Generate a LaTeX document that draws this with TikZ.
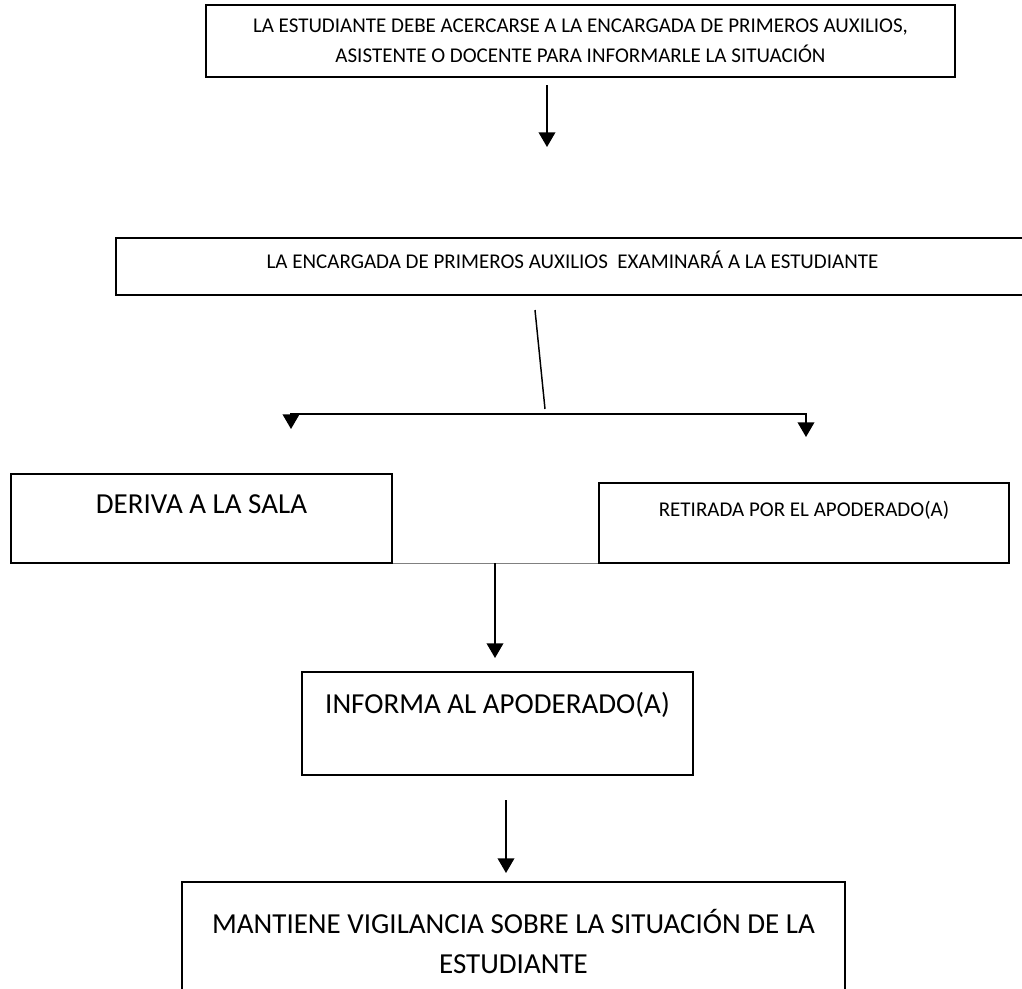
\documentclass[tikz,border=0pt]{standalone}
\usepackage{fontspec}
\setmainfont{Carlito}
\usetikzlibrary{arrows.meta}
\begin{document}
\begin{tikzpicture}[x=0.75pt,y=-0.75pt]

% definitions
\tikzstyle{box} = [rectangle, draw=black, line width=1.3pt, inner sep=0pt, align=center]

\tikzstyle{smalltext} = [font=\fontsize{15.75}{22.5}\selectfont]

\tikzstyle{largetext} = [font=\fontsize{21.75}{30}\selectfont]

\tikzstyle{arrow} = [-{Triangle[width=12.5pt,length=11pt]}, line width=1.1pt]

\tikzstyle{joint} = [draw=gray, line width=0.8pt]

\useasboundingbox (0,0) rectangle (1022,989);
\clip (0,0) rectangle (1022,989);

% the graph
\node (b1) [box, smalltext, minimum width=561.75pt, minimum height=54pt] at (580.5,41) {LA ESTUDIANTE DEBE ACERCARSE A LA ENCARGADA DE PRIMEROS AUXILIOS,\\ASISTENTE O DOCENTE PARA INFORMARLE LA SITUACIÓN};

\node (b2) [box, smalltext, minimum width=684.75pt, minimum height=42.75pt, text height=10.5pt, text depth=8.25pt] at (572.5,266.5) {LA ENCARGADA DE PRIMEROS AUXILIOS ~EXAMINARÁ A LA ESTUDIANTE};

\node (b3) [box, largetext, minimum width=285.75pt, minimum height=66.75pt, text height=13.5pt, text depth=21.75pt] at (201.5,518.5) {DERIVA A LA SALA};

\node (b4) [box, smalltext, minimum width=307.5pt, minimum height=60pt, text height=10.5pt, text depth=21pt] at (804,523) {RETIRADA POR EL APODERADO(A)};

\node (b5) [box, largetext, minimum width=293.25pt, minimum height=77.25pt, text height=14.25pt, text depth=30pt] at (497.5,723.5) {INFORMA AL APODERADO(A)};

\node (b6) [box, largetext, minimum width=497.25pt, minimum height=88.5pt] at (513.5,941) {MANTIENE VIGILANCIA SOBRE LA SITUACIÓN DE LA\\ESTUDIANTE};

\coordinate (a1s) at (547,85);
\coordinate (a1e) at (547,147);
\coordinate (stem) at (535,310);
\coordinate (fork) at (545,409);
\coordinate (bar) at (545,414);
\coordinate (tipL) at (291,429);
\coordinate (tipR) at (806,437);
\coordinate (a3s) at (495,563);
\coordinate (a3e) at (495,658);
\coordinate (a4s) at (506,800);
\coordinate (a4e) at (506,873);

\draw [arrow] (a1s) -- (a1e);
\draw [line width=1.1pt] (stem) -- (fork);
\draw [arrow] (bar) -| (tipL);
\draw [arrow] (bar) -| (tipR);
\draw [joint] (b3.south east) -- (b4.south west);
\draw [arrow] (a3s) -- (a3e);
\draw [arrow] (a4s) -- (a4e);

\end{tikzpicture}
\end{document}
